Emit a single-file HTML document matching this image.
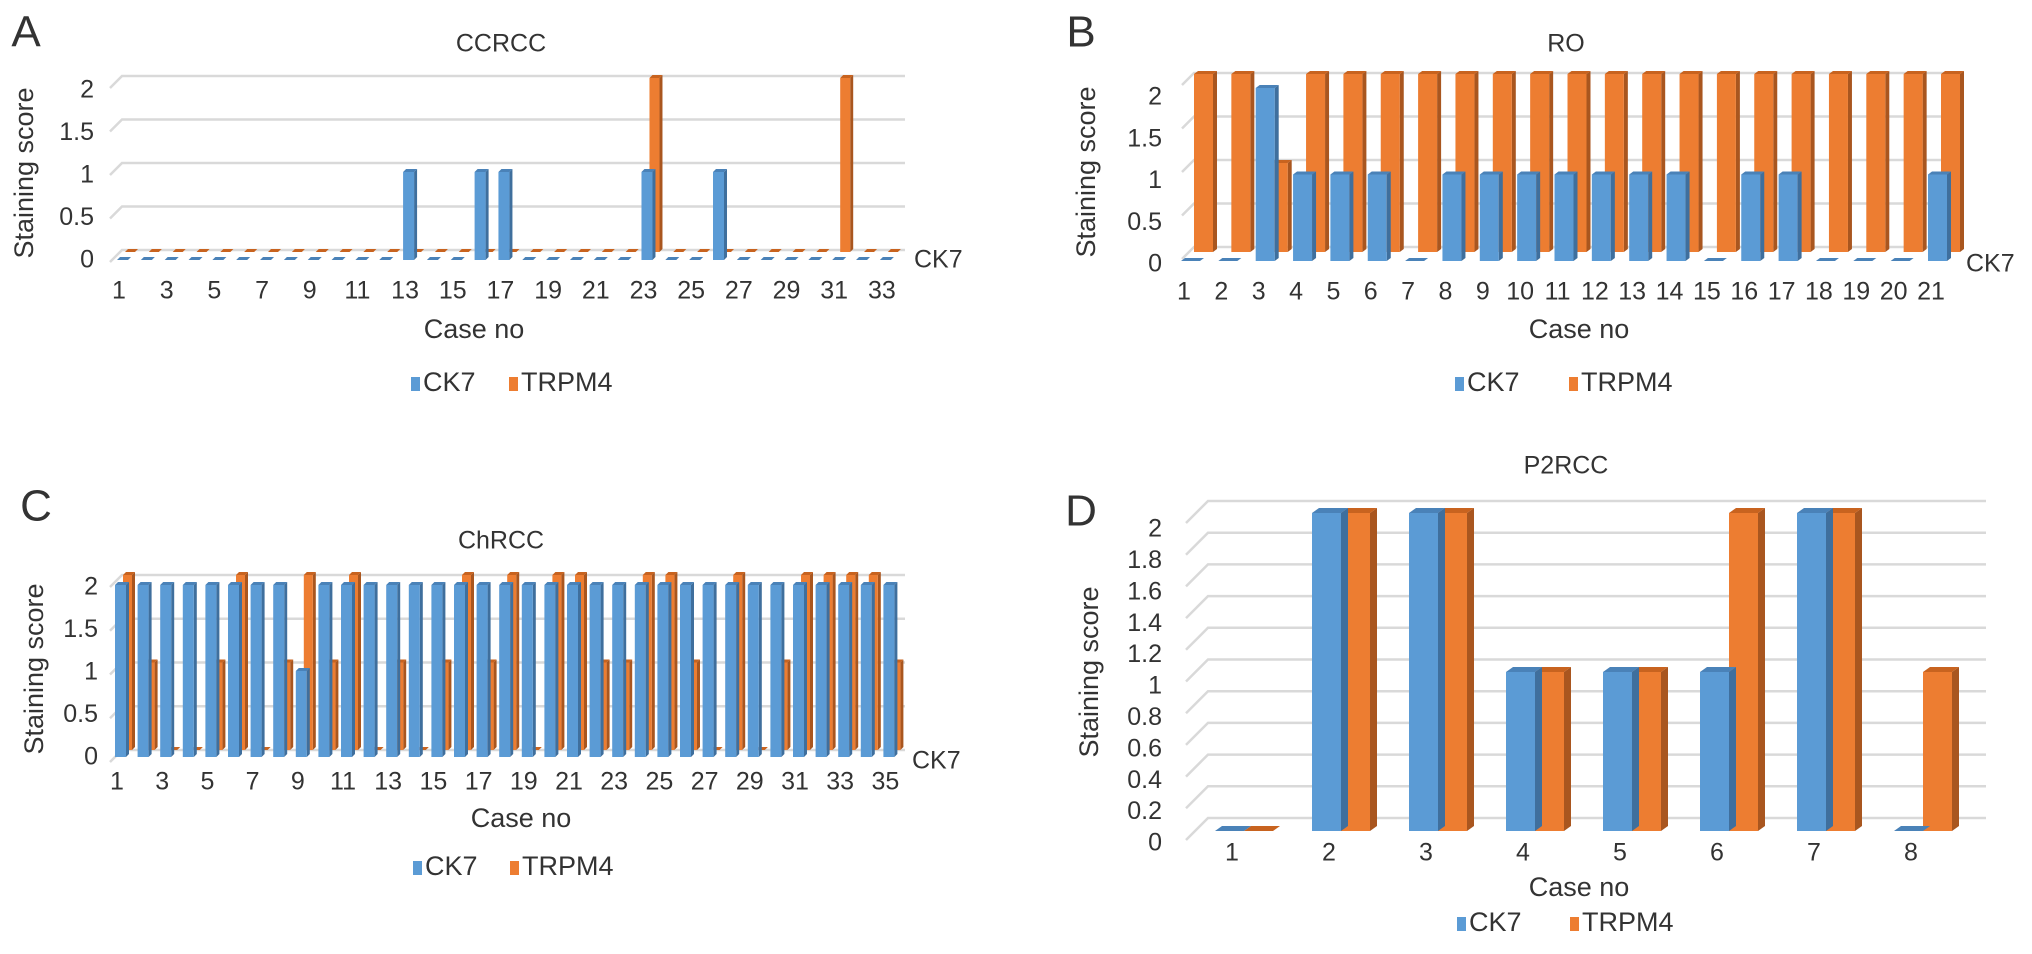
<!DOCTYPE html>
<html>
<head>
<meta charset="utf-8">
<style>
html,body{margin:0;padding:0;background:#fff;}
svg{display:block;font-family:"Liberation Sans",Arial,sans-serif;}
</style>
</head>
<body>
<svg id="fig" width="2032" height="954" viewBox="0 0 2032 954" xmlns="http://www.w3.org/2000/svg"></svg>
<script>
// ---- Panel A: CCRCC ----
const casesA = [1,2,3,4,5,6,7,8,9,10,11,12,13,14,15,16,17,18,19,20,21,22,23,24,25,26,27,28,29,30,31,32,33];
const ck7A   = [0,0,0,0,0,0,0,0,0,0,0,0,1,0,0,1,1,0,0,0,0,0,1,0,0,1,0,0,0,0,0,0,0];
const trpm4A = [0,0,0,0,0,0,0,0,0,0,0,0,0,0,0,0,0,0,0,0,0,0,2,0,0,0,0,0,0,0,2,0,0];
const ticksA = [0,0.5,1,1.5,2];
const tickLabelsA = ["0","0.5","1","1.5","2"];
// ---- Panel B: RO ----
const casesB = [1,2,3,4,5,6,7,8,9,10,11,12,13,14,15,16,17,18,19,20,21];
const ck7B   = [0,0,2,1,1,1,0,1,1,1,1,1,1,1,0,1,1,0,0,0,1];
const trpm4B = [2,2,1,2,2,2,2,2,2,2,2,2,2,2,2,2,2,2,2,2,2];
const ticksB = [0,0.5,1,1.5,2];
const tickLabelsB = ["0","0.5","1","1.5","2"];
// ---- Panel C: ChRCC ----
const casesC = [1,2,3,4,5,6,7,8,9,10,11,12,13,14,15,16,17,18,19,20,21,22,23,24,25,26,27,28,29,30,31,32,33,34,35];
const ck7C   = [2,2,2,2,2,2,2,2,1,2,2,2,2,2,2,2,2,2,2,2,2,2,2,2,2,2,2,2,2,2,2,2,2,2,2];
const trpm4C = [2,1,0,0,1,2,0,1,2,1,2,0,1,0,1,2,1,2,0,2,2,1,1,2,2,1,0,2,0,1,2,2,2,2,1];
const ticksC = [0,0.5,1,1.5,2];
const tickLabelsC = ["0","0.5","1","1.5","2"];
// ---- Panel D: P2RCC ----
const casesD = [1,2,3,4,5,6,7,8];
const ck7D   = [0,2,2,1,1,1,2,0];
const trpm4D = [0,2,2,1,1,2,2,1];
const ticksD = [0,0.2,0.4,0.6,0.8,1,1.2,1.4,1.6,1.8,2];
const tickLabelsD = ["0","0.2","0.4","0.6","0.8","1","1.2","1.4","1.6","1.8","2"];

const NS = "http://www.w3.org/2000/svg";
const svg = document.getElementById("fig");
const BLUE = "#5b9bd5", BLUE_S = "#3f6f9d", BLUE_T = "#4a82b8";
const ORNG = "#ed7d31", ORNG_S = "#a9561f", ORNG_T = "#c8631f";

function mk(tag, attrs, parent) {
  const e = document.createElementNS(NS, tag);
  for (const k in attrs) e.setAttribute(k, attrs[k]);
  (parent || svg).appendChild(e);
  return e;
}
function txt(s, x, y, size, anchor, parent) {
  const t = mk("text", {x: x, y: y, "font-size": size, "text-anchor": anchor || "middle", "dominant-baseline": "middle", fill: "#333"}, parent);
  t.textContent = s;
  return t;
}

function bar3d(g, x, w, yTop, yBase, front, side, top, d, dy) {
  const grp = mk("g", {}, g);
  const h = Math.max(0, yBase - yTop);
  mk("polygon", {points: `${x+w},${yTop} ${x+w+d},${yTop-dy} ${x+w+d},${yBase-dy} ${x+w},${yBase}`, fill: side}, grp);
  mk("polygon", {points: `${x},${yTop} ${x+d},${yTop-dy} ${x+w+d},${yTop-dy} ${x+w},${yTop}`, fill: top}, grp);
  if (h > 0) mk("rect", {x: x, y: yTop, width: w, height: h, fill: front}, grp);
  return grp;
}

function panel(cfg) {
  const g = mk("g", {});
  
  

  const letter = txt(cfg.letter, cfg.letterX, cfg.letterY, 44, "middle", g);
  
  

  const title = txt(cfg.title, cfg.titleX, cfg.titleY, 25, "middle", g);
  
  

  // back-wall gridlines
  const gy = v => cfg.gridBase - v * cfg.gridUnit;
  cfg.ticks.forEach((v, i) => {
    const y = gy(v);
    const ln = mk("polyline", {points: `${cfg.gridX0 - cfg.dx},${y + cfg.dyG} ${cfg.gridX0},${y} ${cfg.gridX1},${y}`, fill: "none", stroke: "#d9d9d9", "stroke-width": 2.5}, g);
    
    
    const lb = txt(cfg.tickLabels[i], cfg.yLabelX, cfg.labelBase - v * cfg.labelUnit, 25, "end", g);
    
    
  });

  const yt = txt("Staining score", 0, 0, 27, "middle", g);
  yt.setAttribute("transform", `translate(${cfg.yTitleX},${cfg.yTitleY}) rotate(-90)`);
  
  

  const xc = i => cfg.x0 + i * cfg.step;
  // back series (TRPM4) first, then front series (CK7)
  cfg.trpm4.forEach((v, i) => {
    const x = xc(i) + cfg.oOff;
    const b = bar3d(g, x, cfg.oW, cfg.oBase - v * cfg.oUnit, cfg.oBase, ORNG, ORNG_S, ORNG_T, cfg.d, cfg.dy);
    
    
  });
  cfg.ck7.forEach((v, i) => {
    const x = xc(i) + cfg.bOff;
    const b = bar3d(g, x, cfg.bW, cfg.bBase - v * cfg.bUnit, cfg.bBase, BLUE, BLUE_S, BLUE_T, cfg.d, cfg.dy);
    
    
  });

  cfg.cases.forEach((c, i) => {
    if (cfg.every && (i % cfg.every) !== 0) return;
    const t = txt(String(c), xc(i) + cfg.labOff, cfg.xLabelY, 25, "middle", g);
    
    
  });

  if (cfg.depthLabel) {
    const dl = txt("CK7", cfg.depthX, cfg.depthY, 25, "start", g);
    
    
  }

  const xt = txt("Case no", cfg.xTitleX, cfg.xTitleY, 27, "middle", g);
  
  

  const lg = mk("g", {}, g);
  
  
  const s1 = mk("rect", {x: cfg.legX1, y: cfg.legY - 7, width: 9, height: 14, fill: BLUE}, lg);
  
  
  const l1 = txt("CK7", cfg.legX1 + 12, cfg.legY, 27, "start", lg);
  
  
  const s2 = mk("rect", {x: cfg.legX2, y: cfg.legY - 7, width: 9, height: 14, fill: ORNG}, lg);
  
  
  const l2 = txt("TRPM4", cfg.legX2 + 12, cfg.legY, 27, "start", lg);
  
  
}

panel({name:"ccrcc", letter:"A", letterX:26, letterY:35, title:"CCRCC", titleX:501, titleY:45,
  ticks:ticksA, tickLabels:tickLabelsA, gridBase:250, gridUnit:87, gridX0:122, gridX1:905, dx:12, dyG:12,
  labelBase:261, labelUnit:85, yLabelX:94, yTitleX:26, yTitleY:173,
  cases:casesA, ck7:ck7A, trpm4:trpm4A, x0:119, step:23.84, every:2, labOff:0,
  bOff:-2, bW:11, bBase:260, bUnit:88, oOff:6, oW:10, oBase:252, oUnit:87, d:3, dy:3,
  xLabelY:292, depthLabel:true, depthX:914, depthY:261, xTitleX:474, xTitleY:331,
  legX1:411, legX2:509, legY:384});

panel({name:"ro", letter:"B", letterX:1081, letterY:35, title:"RO", titleX:1566, titleY:45,
  ticks:ticksB, tickLabels:tickLabelsB, gridBase:247, gridUnit:87, gridX0:1194, gridX1:1963, dx:12, dyG:12,
  labelBase:265, labelUnit:83.5, yLabelX:1162, yTitleX:1088, yTitleY:172,
  cases:casesB, ck7:ck7B, trpm4:trpm4B, x0:1184, step:37.35, every:1, labOff:0,
  bOff:-3, bW:19, bBase:261, bUnit:86.5, oOff:10, oW:19, oBase:252, oUnit:89, d:4, dy:3,
  xLabelY:293, depthLabel:true, depthX:1966, depthY:265, xTitleX:1579, xTitleY:331,
  legX1:1455, legX2:1569, legY:384});

panel({name:"chrcc", letter:"C", letterX:36, letterY:509, title:"ChRCC", titleX:501, titleY:542,
  ticks:ticksC, tickLabels:tickLabelsC, gridBase:750, gridUnit:87.5, gridX0:122, gridX1:905, dx:12, dyG:12,
  labelBase:758, labelUnit:85, yLabelX:98, yTitleX:36, yTitleY:669,
  cases:casesC, ck7:ck7C, trpm4:trpm4C, x0:117, step:22.6, every:2, labOff:0,
  bOff:-2, bW:11, bBase:757, bUnit:86, oOff:6, oW:9, oBase:750, oUnit:87.5, d:3, dy:3,
  xLabelY:783, depthLabel:true, depthX:912, depthY:762, xTitleX:521, xTitleY:820,
  legX1:413, legX2:510, legY:868});

panel({name:"p2rcc", letter:"D", letterX:1081, letterY:514, title:"P2RCC", titleX:1566, titleY:467,
  ticks:ticksD, tickLabels:tickLabelsD, gridBase:818, gridUnit:158.5, gridX0:1208, gridX1:1986, dx:22, dyG:22,
  labelBase:844, labelUnit:157, yLabelX:1162, yTitleX:1091, yTitleY:672,
  cases:casesD, ck7:ck7D, trpm4:trpm4D, x0:1215, step:97, every:1, labOff:17,
  bOff:0, bW:29, bBase:831, bUnit:159, oOff:29, oW:29, oBase:831, oUnit:159, d:7, dy:5,
  xLabelY:854, depthLabel:false, xTitleX:1579, xTitleY:889,
  legX1:1457, legX2:1570, legY:924});
</script>
</body>
</html>
